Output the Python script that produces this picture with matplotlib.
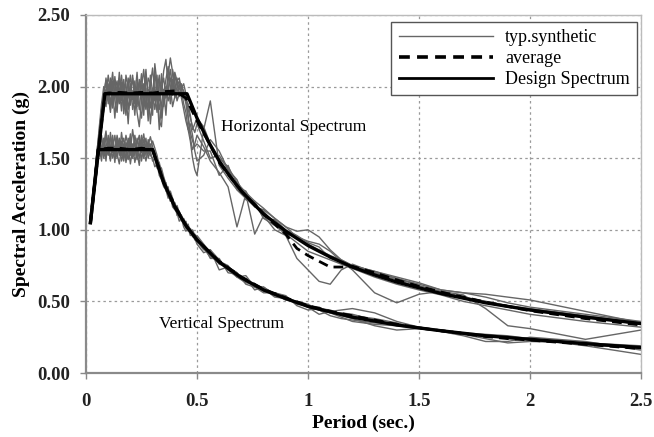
import matplotlib
matplotlib.use("Agg")
import matplotlib.pyplot as plt
from matplotlib.lines import Line2D
import numpy as np

# ---------------- data ----------------
# period grid for the synthetic spectra
T_short = [0.02, 0.03, 0.04, 0.05, 0.06, 0.07, 0.08, 0.09, 0.10, 0.11,
           0.12, 0.13, 0.14, 0.15, 0.16, 0.17, 0.18, 0.19, 0.20, 0.21,
           0.22, 0.23, 0.24, 0.25, 0.26, 0.27, 0.28, 0.29, 0.30, 0.31,
           0.32, 0.33, 0.34, 0.35, 0.36, 0.37, 0.38, 0.39, 0.40, 0.41,
           0.42, 0.43, 0.44, 0.45, 0.46, 0.47, 0.48, 0.49, 0.50]
T_long = [0.53, 0.56, 0.60, 0.64, 0.68, 0.72, 0.76, 0.80, 0.85, 0.90,
          0.95, 1.00, 1.05, 1.10, 1.15, 1.20, 1.30, 1.40, 1.50, 1.60,
          1.70, 1.80, 1.90, 2.00, 2.25, 2.50]

# horizontal synthetic spectra
H1 = [1.05, 1.21, 1.37, 1.53, 1.69, 1.84, 1.96, 2.04, 1.88, 2.03,
      1.85, 2.07, 1.93, 1.99, 1.83, 2.05, 1.90, 2.06, 1.87, 1.97,
      1.80, 2.03, 1.94, 2.09, 1.86, 1.99, 1.76, 2.01, 2.13, 1.95,
      1.82, 2.05, 1.96, 2.11, 2.19, 2.01, 1.88, 2.05, 1.98, 2.06,
      1.93, 1.97, 1.88, 1.82, 1.70, 1.62, 1.50, 1.42, 1.38,
      1.70, 1.90, 1.45, 1.36, 1.28, 1.22, 1.16, 1.13, 1.04, 0.97,
      0.95, 0.90, 0.86, 0.82, 0.79, 0.75, 0.70, 0.66, 0.61, 0.57,
      0.53, 0.50, 0.47, 0.45, 0.40, 0.35]
H2 = [1.05, 1.19, 1.34, 1.50, 1.66, 1.80, 1.92, 1.86, 2.02, 1.84,
      1.97, 1.78, 2.01, 1.88, 2.03, 1.81, 1.95, 1.74, 2.00, 1.91,
      2.04, 1.82, 1.72, 1.90, 2.02, 1.85, 1.98, 1.74, 1.92, 2.10,
      1.96, 1.70, 1.88, 1.98, 1.80, 2.04, 2.12, 1.94, 2.08, 2.00,
      2.04, 1.99, 2.02, 1.95, 1.84, 1.78, 1.72, 1.68, 1.74,
      1.62, 1.50, 1.52, 1.42, 1.30, 1.27, 1.16, 1.14, 1.08, 1.02,
      0.99, 1.00, 0.95, 0.86, 0.79, 0.75, 0.71, 0.67, 0.63, 0.58,
      0.56, 0.55, 0.53, 0.51, 0.43, 0.35]
H3 = [1.05, 1.22, 1.38, 1.55, 1.72, 1.88, 2.00, 1.93, 2.08, 1.97,
      2.10, 1.90, 1.82, 2.06, 1.96, 1.86, 2.08, 1.99, 1.92, 2.06,
      1.95, 1.86, 2.05, 1.93, 1.80, 2.07, 1.97, 1.85, 1.99, 1.90,
      2.08, 1.76, 1.72, 1.95, 2.05, 2.14, 2.00, 1.86, 1.93, 2.00,
      1.98, 2.02, 1.95, 1.88, 1.78, 1.64, 1.56, 1.60, 1.66,
      1.58, 1.48, 1.40, 1.30, 1.02, 1.25, 0.97, 1.10, 1.00, 0.96,
      0.80, 0.72, 0.64, 0.62, 0.72, 0.76, 0.70, 0.65, 0.60, 0.56,
      0.53, 0.50, 0.47, 0.44, 0.39, 0.34]
H4 = [1.05, 1.18, 1.33, 1.48, 1.63, 1.78, 1.90, 2.06, 1.95, 1.82,
      2.00, 2.04, 1.86, 1.96, 2.08, 1.93, 1.80, 1.98, 2.08, 1.84,
      1.93, 2.10, 1.88, 1.78, 1.96, 2.12, 1.90, 1.95, 1.80, 2.16,
      2.02, 1.90, 2.09, 1.86, 1.96, 2.08, 2.20, 2.10, 1.92, 1.96,
      2.02, 1.92, 1.84, 1.76, 1.70, 1.74, 1.66, 1.55, 1.48,
      1.52, 1.63, 1.55, 1.42, 1.35, 1.21, 1.19, 1.08, 1.07, 1.00,
      0.96, 0.91, 0.88, 0.80, 0.78, 0.72, 0.56, 0.49, 0.55, 0.57,
      0.545, 0.45, 0.33, 0.31, 0.235, 0.30]
H5 = [1.05, 1.20, 1.35, 1.51, 1.67, 1.82, 1.94, 1.98, 1.90, 2.06,
      1.92, 1.98, 2.04, 1.89, 1.93, 2.00, 1.85, 1.92, 2.02, 1.94,
      1.88, 1.97, 2.03, 1.92, 1.94, 1.84, 2.06, 2.02, 1.88, 1.97,
      1.90, 1.84, 2.00, 2.06, 1.92, 1.96, 2.06, 2.00, 2.10, 2.04,
      2.06, 1.98, 1.92, 1.90, 1.88, 1.80, 1.70, 1.74, 1.78,
      1.72, 1.60, 1.50, 1.44, 1.33, 1.26, 1.20, 1.15, 1.08, 1.02,
      0.95, 0.92, 0.90, 0.85, 0.78, 0.75, 0.71, 0.66, 0.62, 0.58,
      0.56, 0.53, 0.49, 0.46, 0.41, 0.36]
H6 = [1.05, 1.19, 1.36, 1.52, 1.68, 1.83, 1.95, 1.90, 1.99, 1.88,
      2.04, 1.95, 1.90, 2.10, 1.90, 1.97, 2.02, 1.84, 1.96, 2.08,
      1.90, 1.96, 1.84, 2.00, 2.12, 1.92, 1.85, 2.08, 1.96, 1.84,
      1.96, 2.08, 1.78, 1.92, 2.00, 1.90, 1.96, 2.12, 2.02, 1.90,
      1.95, 2.00, 1.97, 1.93, 1.80, 1.68, 1.62, 1.58, 1.60,
      1.55, 1.55, 1.38, 1.45, 1.28, 1.22, 1.20, 1.08, 1.03, 0.97,
      0.91, 0.85, 0.82, 0.79, 0.76, 0.73, 0.67, 0.62, 0.58, 0.545,
      0.50, 0.47, 0.44, 0.41, 0.36, 0.32]

# vertical synthetic spectra
V1 = [1.05, 1.22, 1.39, 1.56, 1.68, 1.54, 1.62, 1.48, 1.66, 1.55,
      1.60, 1.47, 1.63, 1.52, 1.68, 1.56, 1.50, 1.64, 1.55, 1.70,
      1.58, 1.49, 1.60, 1.54, 1.63, 1.57, 1.60, 1.52, 1.50, 1.44,
      1.46, 1.38, 1.35, 1.30, 1.28, 1.22, 1.24, 1.16, 1.14, 1.12,
      1.06, 1.08, 1.02, 0.99, 1.01, 0.96, 0.97, 0.93, 0.92,
      0.86, 0.86, 0.72, 0.74, 0.70, 0.64, 0.62, 0.57, 0.56, 0.53,
      0.48, 0.47, 0.44, 0.43, 0.44, 0.45, 0.42, 0.36, 0.32, 0.29,
      0.27, 0.25, 0.25, 0.24, 0.20, 0.17]
V2 = [1.05, 1.20, 1.36, 1.52, 1.60, 1.66, 1.50, 1.58, 1.64, 1.50,
      1.57, 1.66, 1.53, 1.46, 1.58, 1.64, 1.55, 1.49, 1.60, 1.54,
      1.66, 1.57, 1.50, 1.62, 1.55, 1.48, 1.57, 1.60, 1.54, 1.55,
      1.47, 1.40, 1.41, 1.34, 1.27, 1.30, 1.20, 1.21, 1.18, 1.10,
      1.12, 1.10, 1.04, 1.06, 1.00, 0.98, 1.00, 0.96, 0.94,
      0.89, 0.80, 0.80, 0.70, 0.69, 0.66, 0.58, 0.60, 0.55, 0.51,
      0.50, 0.46, 0.41, 0.43, 0.40, 0.38, 0.33, 0.30, 0.31, 0.30,
      0.28, 0.26, 0.24, 0.24, 0.21, 0.18]
V3 = [1.05, 1.21, 1.37, 1.54, 1.57, 1.48, 1.64, 1.56, 1.52, 1.68,
      1.54, 1.58, 1.50, 1.62, 1.48, 1.55, 1.66, 1.58, 1.46, 1.57,
      1.52, 1.64, 1.56, 1.66, 1.50, 1.60, 1.53, 1.58, 1.62, 1.57,
      1.52, 1.45, 1.43, 1.37, 1.32, 1.24, 1.27, 1.22, 1.15, 1.17,
      1.12, 1.06, 1.08, 1.04, 1.02, 1.00, 0.95, 0.97, 0.95,
      0.87, 0.81, 0.78, 0.75, 0.67, 0.63, 0.62, 0.59, 0.53, 0.52,
      0.50, 0.47, 0.46, 0.42, 0.39, 0.36, 0.34, 0.33, 0.32, 0.29,
      0.27, 0.24, 0.21, 0.22, 0.21, 0.19]
V4 = [1.05, 1.19, 1.34, 1.50, 1.63, 1.58, 1.52, 1.66, 1.58, 1.48,
      1.63, 1.55, 1.66, 1.57, 1.52, 1.60, 1.47, 1.56, 1.64, 1.50,
      1.55, 1.60, 1.66, 1.48, 1.58, 1.64, 1.50, 1.55, 1.48, 1.50,
      1.43, 1.44, 1.36, 1.32, 1.33, 1.26, 1.20, 1.22, 1.17, 1.13,
      1.09, 1.10, 1.05, 1.01, 1.03, 0.99, 0.96, 0.94, 0.90,
      0.84, 0.86, 0.79, 0.72, 0.67, 0.68, 0.60, 0.56, 0.56, 0.54,
      0.47, 0.44, 0.45, 0.44, 0.41, 0.40, 0.38, 0.35, 0.31, 0.29,
      0.26, 0.22, 0.22, 0.25, 0.22, 0.16]
V5 = [1.05, 1.20, 1.37, 1.52, 1.55, 1.64, 1.57, 1.52, 1.60, 1.64,
      1.50, 1.56, 1.60, 1.54, 1.62, 1.50, 1.58, 1.62, 1.52, 1.60,
      1.47, 1.55, 1.62, 1.57, 1.60, 1.52, 1.63, 1.57, 1.55, 1.49,
      1.50, 1.42, 1.39, 1.35, 1.29, 1.27, 1.25, 1.18, 1.16, 1.15,
      1.10, 1.07, 1.06, 1.02, 0.99, 1.01, 0.98, 0.95, 0.93,
      0.88, 0.82, 0.77, 0.72, 0.69, 0.64, 0.61, 0.58, 0.55, 0.51,
      0.49, 0.46, 0.44, 0.42, 0.42, 0.41, 0.37, 0.33, 0.31, 0.30,
      0.28, 0.26, 0.25, 0.23, 0.20, 0.17]
V6 = [1.05, 1.22, 1.38, 1.55, 1.62, 1.52, 1.60, 1.69, 1.54, 1.58,
      1.66, 1.52, 1.57, 1.64, 1.55, 1.48, 1.61, 1.57, 1.67, 1.52,
      1.62, 1.54, 1.45, 1.60, 1.67, 1.55, 1.59, 1.65, 1.58, 1.53,
      1.49, 1.47, 1.40, 1.36, 1.31, 1.29, 1.22, 1.19, 1.19, 1.14,
      1.13, 1.09, 1.07, 1.03, 1.04, 0.98, 0.99, 0.95, 0.96,
      0.90, 0.84, 0.76, 0.74, 0.70, 0.62, 0.60, 0.60, 0.54, 0.52,
      0.50, 0.48, 0.44, 0.40, 0.38, 0.37, 0.35, 0.34, 0.32, 0.30,
      0.28, 0.27, 0.26, 0.24, 0.19, 0.13]

# average spectra
T_avg_h = [0.02, 0.085, 0.10, 0.15, 0.20, 0.25, 0.30, 0.35, 0.40, 0.45,
           0.50, 0.55, 0.60, 0.70, 0.80, 0.90, 0.95, 1.00, 1.05, 1.10,
           1.15, 1.20, 1.30, 1.40, 1.50, 1.60, 1.70, 1.80, 1.90, 2.00,
           2.25, 2.50]
avg_h = [1.05, 1.95, 1.955, 1.96, 1.955, 1.96, 1.955, 1.965, 1.97, 1.92,
         1.76, 1.62, 1.47, 1.27, 1.11, 0.97, 0.87, 0.82, 0.78, 0.74,
         0.74, 0.745, 0.70, 0.65, 0.605, 0.565, 0.53, 0.495, 0.465, 0.435,
         0.38, 0.335]
T_avg_v = [0.02, 0.055, 0.10, 0.15, 0.20, 0.25, 0.30, 0.35, 0.40, 0.45,
           0.50, 0.60, 0.70, 0.80, 0.90, 1.00, 1.10, 1.20, 1.30, 1.40,
           1.50, 1.60, 1.70, 1.80, 1.90, 2.00, 2.25, 2.50]
avg_v = [1.05, 1.56, 1.57, 1.57, 1.56, 1.57, 1.56, 1.33, 1.17, 1.03,
         0.93, 0.78, 0.67, 0.585, 0.525, 0.47, 0.43, 0.40, 0.37, 0.34,
         0.315, 0.295, 0.275, 0.255, 0.24, 0.23, 0.20, 0.17]

# design spectra
T_des_h = [0.02, 0.085, 0.455, 0.5, 0.55, 0.6, 0.65, 0.7, 0.8, 0.9,
           1.0, 1.1, 1.2, 1.3, 1.4, 1.6, 1.8, 2.0, 2.25, 2.5]
des_h = [1.05, 1.95, 1.95, 1.78, 1.62, 1.48, 1.37, 1.27, 1.11, 0.99,
         0.89, 0.81, 0.74, 0.685, 0.635, 0.555, 0.49, 0.44, 0.39, 0.345]
T_des_v = [0.02, 0.055, 0.30, 0.35, 0.40, 0.45, 0.50, 0.60, 0.70, 0.80,
           0.90, 1.00, 1.20, 1.40, 1.60, 1.80, 2.00, 2.25, 2.50]
des_v = [1.05, 1.56, 1.56, 1.33, 1.16, 1.03, 0.93, 0.775, 0.665, 0.58,
         0.52, 0.465, 0.39, 0.335, 0.295, 0.26, 0.235, 0.205, 0.178]

x_ticks = [0, 0.5, 1, 1.5, 2, 2.5]
x_tick_labels = ["0", "0.5", "1", "1.5", "2", "2.5"]
y_ticks = [0.0, 0.5, 1.0, 1.5, 2.0, 2.5]
y_tick_labels = ["0.00", "0.50", "1.00", "1.50", "2.00", "2.50"]

# ---------------- plotting ----------------
plt.rcParams['font.family'] = ['Liberation Serif', 'DejaVu Serif']

fig = plt.figure(figsize=(6.54, 4.37), dpi=100)
ax = fig.add_axes([86/654, 1 - 373/437, (641 - 86)/654, (373 - 15)/437])

T_syn = T_short + T_long
grey = '#666666'
for curve in (H1, H2, H3, H4, H5, H6, V1, V2, V3, V4, V5, V6):
    ax.plot(T_syn, curve, color=grey, lw=1.0, zorder=2)

ax.plot(T_des_h, des_h, color='black', lw=2.4, zorder=3, solid_joinstyle='round')
ax.plot(T_des_v, des_v, color='black', lw=2.4, zorder=3, solid_joinstyle='round')
ax.plot(T_avg_h, avg_h, color='black', lw=2.0, ls=(0, (3.5, 2.2)), zorder=4)
ax.plot(T_avg_v, avg_v, color='black', lw=2.0, ls=(0, (3.5, 2.2)), zorder=4)

ax.set_xlim(0, 2.5)
ax.set_ylim(0, 2.5)
ax.set_xticks(x_ticks)
ax.set_xticklabels(x_tick_labels)
ax.set_yticks(y_ticks)
ax.set_yticklabels(y_tick_labels)

for lbl in ax.get_xticklabels() + ax.get_yticklabels():
    lbl.set_fontweight('bold')
    lbl.set_fontsize(13.5)
    lbl.set_color('#222222')

ax.tick_params(axis='both', direction='out', length=4.5, width=1.0, color='#888888')
ax.tick_params(axis='x', pad=10)
ax.tick_params(axis='y', pad=7)

ax.grid(True, color='#9a9a9a', ls=(0, (2, 2.5)), lw=0.9)
ax.set_axisbelow(True)
for side in ('left', 'bottom'):
    ax.spines[side].set_color('#8a8a8a')
    ax.spines[side].set_linewidth(1.6)
for side in ('top', 'right'):
    ax.spines[side].set_color('#bbbbbb')
    ax.spines[side].set_linewidth(1.0)

ax.set_xlabel('Period (sec.)', fontsize=14, fontweight='bold', labelpad=3)
ax.set_ylabel('Spectral Acceleration (g)', fontsize=14, fontweight='bold', labelpad=5)

ax.text(0.61, 1.72, 'Horizontal Spectrum', fontsize=12.5, va='center', ha='left', zorder=5)
ax.text(0.33, 0.34, 'Vertical Spectrum', fontsize=12.5, va='center', ha='left', zorder=5)

handles = [Line2D([], [], color=grey, lw=1.0),
           Line2D([], [], color='black', lw=2.6, ls=(0, (3.0, 2.0))),
           Line2D([], [], color='black', lw=2.0)]
labels = ['typ.synthetic', 'average', 'Design Spectrum']
leg = ax.legend(handles, labels, loc='upper right', bbox_to_anchor=(0.993, 0.981),
                fontsize=13, frameon=True, fancybox=False, framealpha=1,
                edgecolor='#555555', handlelength=5.2, handletextpad=0.7,
                labelspacing=0.22, borderpad=0.4, borderaxespad=0)
leg.get_frame().set_linewidth(1.0)
leg.set_zorder(10)

fig.savefig('out.png', dpi=100)
